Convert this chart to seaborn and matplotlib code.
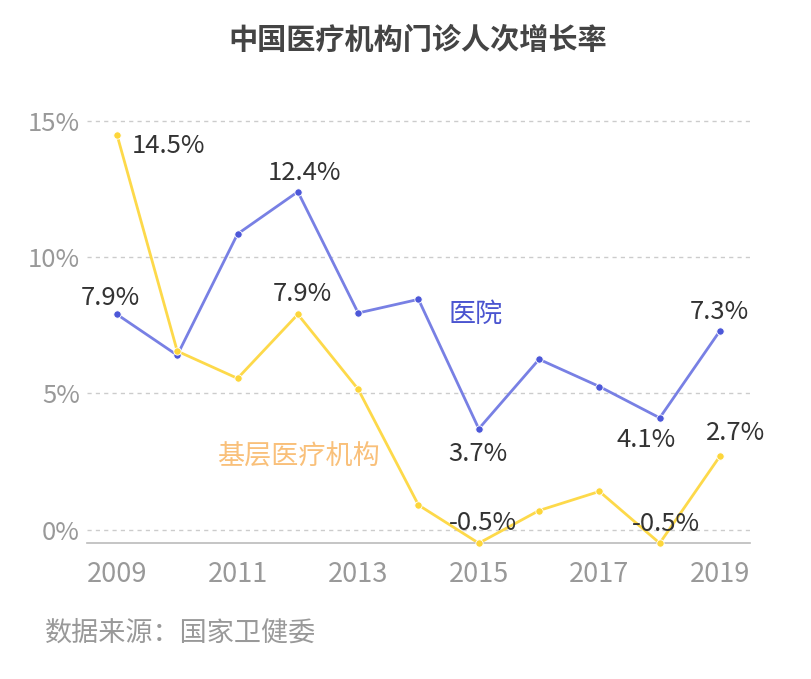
import seaborn as sns
import matplotlib.pyplot as plt
import pandas as pd

years = [2009, 2010, 2011, 2012, 2013, 2014, 2015, 2016, 2017, 2018, 2019]
hospital = [7.9, 6.4, 10.85, 12.4, 7.95, 8.45, 3.7, 6.25, 5.25, 4.1, 7.3]
primary = [14.5, 6.55, 5.55, 7.9, 5.15, 0.9, -0.5, 0.7, 1.4, -0.5, 2.7]
series_names = ["医院", "基层医疗机构"]
y_ticks = [0, 5, 10, 15]
x_ticks = [2009, 2011, 2013, 2015, 2017, 2019]

df = pd.DataFrame({"year": years * 2,
                   "value": hospital + primary,
                   "series": [series_names[0]] * len(years) + [series_names[1]] * len(years)})

sns.set_theme(style="white")
plt.rcParams['font.family'] = ['Noto Sans CJK SC', 'DejaVu Sans']

fig = plt.figure(figsize=(8.11, 6.79), dpi=100)
ax = fig.add_axes([0.107, 0.2, 0.818, 0.642])

line_col = {"医院": "#7880e4", "基层医疗机构": "#fdd94a"}
dot_col = {"医院": "#4c57d8", "基层医疗机构": "#fdd63a"}

sns.lineplot(data=df, x="year", y="value", hue="series", palette=line_col,
             linewidth=2, legend=False, ax=ax)
for name in series_names:
    sub = df[df.series == name]
    ax.scatter(sub.year, sub.value, s=28, color=dot_col[name], zorder=3,
               edgecolor="white", linewidth=0.6, clip_on=False)

ax.set_xlim(2008.5, 2019.5)
ax.set_ylim(-0.5, 15.5)
ax.set_yticks(y_ticks)
ax.set_yticklabels([f"{t}%" for t in y_ticks])
ax.set_xticks(x_ticks)
ax.set_xticklabels([str(t) for t in x_ticks])
ax.tick_params(axis="both", length=0, colors="#999999")
ax.tick_params(axis="x", pad=13, labelsize=19.5)
ax.tick_params(axis="y", pad=5, labelsize=18.5)
for t in y_ticks:
    ax.axhline(t, color="#cccccc", linestyle=(0, (3, 3)), linewidth=1, zorder=0)
for s in ["top", "right", "left"]:
    ax.spines[s].set_visible(False)
ax.spines["bottom"].set_color("#bbbbbb")
ax.spines["bottom"].set_linewidth(1.2)
ax.set_xlabel("")
ax.set_ylabel("")

# value labels: (index, series, offset in points from the point)
labels = [
    (0, hospital, (-5, 11.5)),
    (3, hospital, (5, 13.7)),
    (6, hospital, (-0.7, -18)),
    (9, hospital, (-10, -16)),
    (10, hospital, (-0.7, 13.7)),
    (0, primary, (37, -8.6)),
    (3, primary, (3, 15)),
    (6, primary, (3, 14.4)),
    (9, primary, (4.3, 13.7)),
    (10, primary, (11, 16.5)),
]
for i, vals, off in labels:
    ax.annotate(f"{vals[i]}%", (years[i], vals[i]), xytext=off, textcoords="offset points",
                ha="center", va="center", fontsize=18.5, color="#333333")

ax.text(2014.5, 7.9, series_names[0], fontsize=19.5, color="#4b55d0", ha="left", va="center")
ax.text(2013.35, 2.65, series_names[1], fontsize=19.5, color="#f9c07a", ha="right", va="center")

fig.text(0.515, 0.941, "中国医疗机构门诊人次增长率", ha="center", va="center",
         fontsize=21, fontweight="bold", color="#444444")
fig.text(0.055, 0.068, "数据来源：国家卫健委", ha="left", va="center",
         fontsize=19.5, color="#999999")

fig.savefig("out.png", dpi=100)
